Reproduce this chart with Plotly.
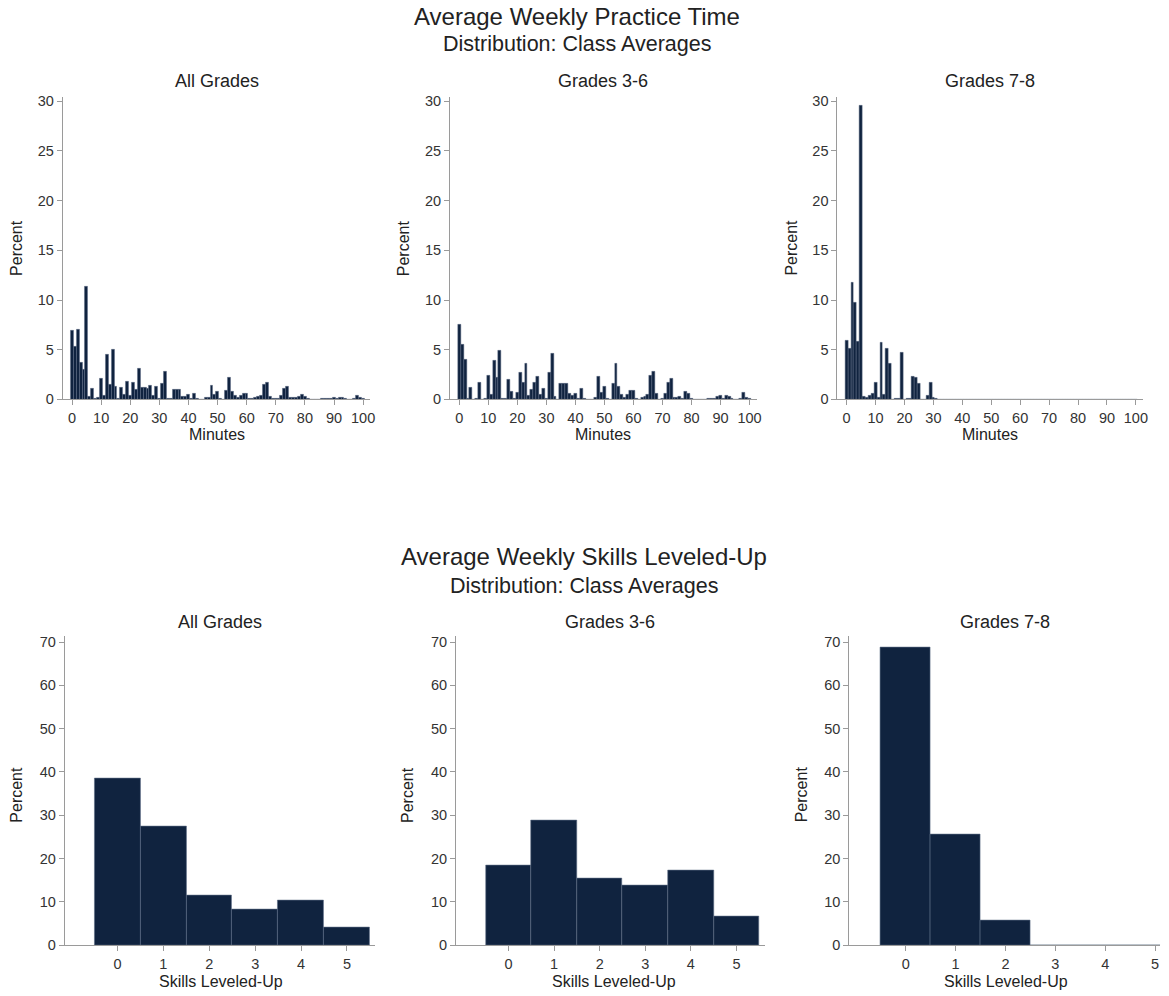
import plotly.graph_objects as go

# ---------------- data ----------------
minutes = list(range(0, 101))

ag_min = [6.9, 5.3, 7.0, 3.7, 3.0, 11.3, 0.3, 1.1, 0.1, 0.2,
          2.1, 0.4, 4.5, 1.5, 5.0, 1.3, 0.05, 1.2, 0.5, 1.8,
          0.4, 1.7, 1.0, 3.1, 1.2, 1.2, 1.1, 1.4, 0.4, 1.3,
          0.1, 1.6, 2.8, 0.1, 0.05, 1.0, 1.0, 1.0, 0.3, 0.3,
          0.5, 0.05, 0.6, 0.1, 0, 0, 0.2, 0.2, 1.4, 0.5,
          0.8, 0.05, 0, 0.9, 2.2, 0.8, 0.4, 0.2, 0.4, 0.6,
          0.6, 0.05, 0.05, 0.2, 0.3, 0.4, 1.5, 1.7, 0.3, 0.05,
          0.05, 0.1, 0.4, 1.1, 1.3, 0.2, 0.2, 0.2, 0.3, 0.5,
          0.3, 0.05, 0, 0, 0, 0, 0.1, 0.1, 0.1, 0.1,
          0.2, 0.1, 0.2, 0.2, 0.1, 0, 0, 0.05, 0.4, 0.2,
          0.05]

g36_min = [7.5, 5.5, 4.0, 0.05, 1.2, 0, 0.05, 1.7, 0, 0.05,
           2.4, 0.5, 3.9, 2.2, 4.9, 0.05, 0.05, 2.0, 0.8, 0.1,
           0.7, 2.7, 1.7, 3.6, 0.4, 1.0, 1.7, 2.3, 0.5, 1.1,
           0.05, 2.7, 4.6, 0.3, 0, 1.6, 1.6, 1.6, 0.6, 0.4,
           0.6, 0.05, 1.1, 0.1, 0, 0, 0, 0.2, 2.3, 0.7,
           1.3, 0.05, 0, 1.6, 3.6, 1.3, 0.5, 0.2, 0.5, 0.9,
           0.9, 0.05, 0, 0.15, 0.3, 0.5, 2.4, 2.8, 0.6, 0,
           0.05, 0.6, 1.7, 2.1, 0.2, 0.2, 0.3, 0.05, 0.8, 0.6,
           0.05, 0, 0, 0, 0, 0, 0.1, 0.1, 0.1, 0.3,
           0.4, 0.1, 0.4, 0.3, 0.05, 0, 0, 0.1, 0.7, 0.2,
           0.05]

g78_min = [5.9, 5.1, 11.8, 9.7, 5.8, 29.6, 0.3, 0.15, 0.4, 0.6,
           1.7, 0.2, 5.7, 0.5, 5.1, 3.6, 0, 0.05, 0.05, 4.7,
           0, 0.05, 0.1, 2.3, 2.2, 1.6, 0, 0, 0.4, 1.7,
           0.15, 0.1] + [0] * 69

skills = [0, 1, 2, 3, 4, 5]
ag_sk = [38.5, 27.5, 11.5, 8.3, 10.3, 4.0]
g36_sk = [18.5, 28.8, 15.3, 13.7, 17.2, 6.6]
g78_sk = [68.7, 25.5, 5.8, 0, 0, 0]

panel_titles = ["All Grades", "Grades 3-6", "Grades 7-8"]
top_title = "Average Weekly Practice Time"
bot_title = "Average Weekly Skills Leveled-Up"
subtitle = "Distribution: Class Averages"
min_ticks = list(range(0, 101, 10))
top_y_ticks = list(range(0, 31, 5))
bot_y_ticks = list(range(0, 71, 10))

# ---------------- styling ----------------
W, H = 1169, 996
YS = 0.993  # vertical compensation for the page capture
FONT = "Liberation Sans"
BAR = "#10233f"
EDGE = "#5d6b84"
AXC = "#9a9a9a"
TXT = "#222222"
TICKTXT = "#333333"

def fx(p):
    return p / W

def fy(p):
    return 1 - p / (H * YS)

top_x_dom = [(63, 372), (452, 760), (841, 1148)]
bot_x_dom = [(65, 377), (458, 768), (853, 1165)]
top_y_dom = (94, 398)
bot_y_dom = (636, 946)

fig = go.Figure()

top_data = [ag_min, g36_min, g78_min]
bot_data = [ag_sk, g36_sk, g78_sk]

for i in range(3):
    n = i + 1
    fig.add_trace(go.Bar(
        x=minutes, y=top_data[i], width=1,
        marker=dict(color=BAR, line=dict(color=EDGE, width=0.5)),
        xaxis="x" if n == 1 else f"x{n}", yaxis="y" if n == 1 else f"y{n}",
        showlegend=False, hoverinfo="x+y"))
for i in range(3):
    n = i + 4
    fig.add_trace(go.Bar(
        x=skills, y=bot_data[i], width=1,
        marker=dict(color=BAR, line=dict(color=EDGE, width=0.6)),
        xaxis=f"x{n}", yaxis=f"y{n}",
        showlegend=False, hoverinfo="x+y"))

axis_common = dict(showline=True, linecolor=AXC, linewidth=1, ticks="outside",
                   ticklen=5, tickcolor=AXC, tickwidth=1, showgrid=False,
                   zeroline=False, fixedrange=True,
                   tickfont=dict(family=FONT, size=14.5, color=TICKTXT))

layout = {}
for i in range(3):
    n = i + 1
    xk = "xaxis" if n == 1 else f"xaxis{n}"
    yk = "yaxis" if n == 1 else f"yaxis{n}"
    xa = "x" if n == 1 else f"x{n}"
    ya = "y" if n == 1 else f"y{n}"
    layout[xk] = dict(axis_common, domain=[fx(top_x_dom[i][0]), fx(top_x_dom[i][1])],
                      anchor=ya, range=[-3.2, 102.5], tickvals=min_ticks)
    layout[yk] = dict(axis_common, domain=[fy(top_y_dom[1]), fy(top_y_dom[0])],
                      anchor=xa, range=[0, 30.47], tickvals=top_y_ticks)
for i in range(3):
    n = i + 4
    xk, yk = f"xaxis{n}", f"yaxis{n}"
    xa, ya = f"x{n}", f"y{n}"
    xr = [-1.15, 5.62] if i < 2 else [-1.13, 5.1]
    layout[xk] = dict(axis_common, domain=[fx(bot_x_dom[i][0]), fx(bot_x_dom[i][1])],
                      anchor=ya, range=xr, tickvals=skills)
    layout[yk] = dict(axis_common, domain=[fy(bot_y_dom[1]), fy(bot_y_dom[0])],
                      anchor=xa, range=[0, 71.3], tickvals=bot_y_ticks)

annotations = []

def ann(text, x, y, size, angle=0, color=TXT):
    annotations.append(dict(text=text, x=fx(x), y=fy(y), xref="paper", yref="paper",
                            xanchor="center", yanchor="middle", showarrow=False,
                            textangle=angle, font=dict(family=FONT, size=size, color=color)))

ann(top_title, 579, 14, 24)
ann(subtitle, 579, 41, 21.5)
ann(bot_title, 587, 556, 24)
ann(subtitle, 587, 585, 21.5)

for i in range(3):
    cx = (top_x_dom[i][0] + top_x_dom[i][1]) / 2
    ann(panel_titles[i], cx, 78, 18)
    ann("Minutes", cx, 433, 16)
    ann("Percent", top_x_dom[i][0] - 46, 246, 16, angle=-90)
for i in range(3):
    cx = (bot_x_dom[i][0] + bot_x_dom[i][1]) / 2
    ann(panel_titles[i], cx, 622, 18)
    ann("Percent", bot_x_dom[i][0] - 48, 795, 16, angle=-90)
ann("Skills Leveled-Up", 222, 983, 16)
ann("Skills Leveled-Up", 617, 983, 16)
ann("Skills Leveled-Up", 1010, 983, 16)

fig.update_layout(
    width=W, height=H,
    margin=dict(l=0, r=0, t=0, b=0),
    paper_bgcolor="white", plot_bgcolor="white",
    bargap=0, barmode="overlay",
    font=dict(family=FONT, color=TXT),
    annotations=annotations,
    **layout,
)

fig.write_html("out.html")
